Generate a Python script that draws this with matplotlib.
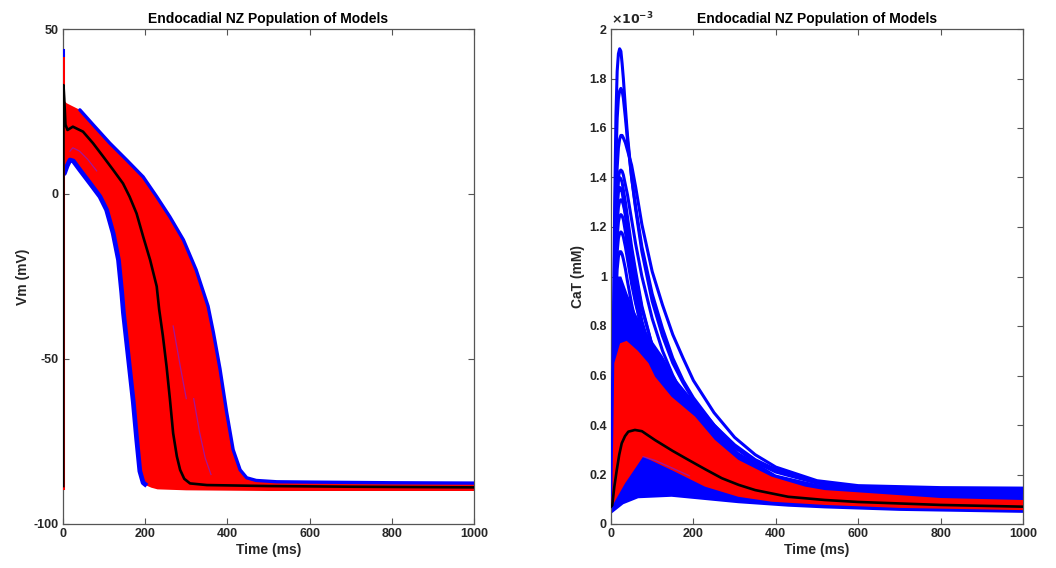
import numpy as np
import matplotlib
matplotlib.use('Agg')
import matplotlib.pyplot as plt
from matplotlib.ticker import FuncFormatter

plt.rcParams['font.family'] = ['Liberation Sans', 'DejaVu Sans']
plt.rcParams['font.weight'] = 'bold'
plt.rcParams['axes.unicode_minus'] = False

TITLE = 'Endocadial NZ Population of Models'

# ---------------- Vm panel (time in ms, Vm in mV) ----------------
vm_up_t = [1.5, 5, 9, 20, 41, 74, 114, 155, 195, 228, 260, 293, 324, 353, 366, 382, 398, 414, 431, 447, 470, 520, 600, 800, 1000]
vm_up_v = [28.5, 28.0, 27.5, 26.8, 25.5, 20.9, 15.4, 10.3, 5.2, -0.8, -6.9, -13.9, -23.0, -34.0, -42.0, -53.0, -66.0, -77.5, -83.6, -86.0, -86.8, -87.2, -87.3, -87.5, -87.6]
vm_lo_t = [1.5, 3.6, 10, 17, 25, 41, 66, 90, 106, 122, 135, 143, 147, 155, 163, 171, 179, 187, 195, 204, 215, 230, 300, 500, 1000]
vm_lo_v = [6.0, 6.3, 8.5, 10.3, 10.0, 7.3, 3.2, -0.8, -4.8, -11.9, -20.0, -30.0, -36.0, -45.0, -54.0, -63.0, -74.0, -84.0, -87.5, -88.4, -89.0, -89.5, -89.8, -90.0, -90.0]
vm_mean_t = [0.6, 1.2, 3, 6, 11, 24, 48.6, 73, 98, 122, 146, 162, 179, 195, 212, 228, 234, 243, 252, 260, 268, 277, 285, 295, 309, 350, 500, 700, 1000]
vm_mean_v = [-88.5, 33.0, 29.0, 21.0, 19.4, 20.4, 18.9, 15.4, 11.3, 7.3, 3.2, -0.8, -5.9, -12.9, -20.0, -28.0, -35.0, -43.0, -52.3, -62.0, -72.5, -79.5, -83.6, -86.3, -87.7, -88.2, -88.5, -88.7, -88.9]
vm_tail_top_t = [447, 470, 520, 600, 800, 1000]
vm_tail_top_v = [-86.0, -86.8, -87.2, -87.3, -87.5, -87.6]
# faint blue traces visible inside the red band
vm_inner1_t = [17, 24, 40, 60, 82]
vm_inner1_v = [13.0, 14.0, 13.0, 10.5, 7.0]
vm_inner2_t = [318, 332, 346, 360]
vm_inner2_v = [-62.0, -72.0, -80.0, -85.0]
vm_inner3_t = [268, 285, 300]
vm_inner3_v = [-40.0, -52.0, -62.0]
vm_rest_v = -89.0
vm_spike_red = 42.0
vm_spike_blue = 43.5

# ---------------- CaT panel (time in ms, CaT in 1e-3 mM) ----------------
ca_blue_up_t = [0, 3, 6, 10, 15, 25, 40, 60, 80, 100, 125, 160, 200, 230, 270, 310, 400, 500, 600, 800, 1000]
ca_blue_up_v = [0.05, 0.30, 0.65, 0.90, 1.00, 1.00, 0.93, 0.85, 0.79, 0.74, 0.68, 0.58, 0.50, 0.44, 0.36, 0.29, 0.20, 0.16, 0.145, 0.14, 0.138]
ca_blue_lo_t = [0, 2, 30, 66, 147, 228, 309, 430, 519, 700, 1000]
ca_blue_lo_v = [0.045, 0.043, 0.08, 0.104, 0.11, 0.097, 0.084, 0.07, 0.063, 0.053, 0.045]
ca_red_up_t = [0, 3.3, 5.7, 8, 22, 38, 65, 91, 107, 147, 204, 252, 309, 390, 471, 519, 600, 800, 1000]
ca_red_up_v = [0.07, 0.137, 0.38, 0.65, 0.73, 0.74, 0.70, 0.65, 0.595, 0.514, 0.434, 0.34, 0.259, 0.191, 0.151, 0.137, 0.128, 0.105, 0.097]
ca_red_lo_t = [0, 2, 34, 78, 147, 228, 309, 390, 519, 700, 1000]
ca_red_lo_v = [0.065, 0.07, 0.164, 0.272, 0.218, 0.151, 0.11, 0.09, 0.077, 0.065, 0.056]
ca_inner_t = [78, 110, 150, 190]
ca_inner_v = [0.272, 0.255, 0.225, 0.195]
ca_mean_t = [0, 3, 8, 14, 20, 26, 34, 42, 58, 75, 107, 150, 188, 230, 269, 310, 350, 430, 519, 600, 800, 1000]
ca_mean_v = [0.07, 0.075, 0.15, 0.218, 0.28, 0.326, 0.355, 0.373, 0.38, 0.375, 0.339, 0.295, 0.259, 0.22, 0.185, 0.158, 0.137, 0.11, 0.097, 0.089, 0.077, 0.07]

# outlying (blue) CaT traces sampled on a common time grid
ca_out_t = [0, 3, 6, 9, 12, 15, 18, 21, 24, 27, 30, 35, 40, 50, 60, 75, 100, 125, 150, 175, 200, 250, 300, 350, 400, 500, 600, 800, 1000]
ca_out_1 = [0.10, 0.35, 0.80, 1.30, 1.65, 1.83, 1.90, 1.92, 1.91, 1.86, 1.80, 1.68, 1.57, 1.40, 1.27, 1.10, 0.90, 0.76, 0.65, 0.57, 0.50, 0.40, 0.32, 0.26, 0.22, 0.17, 0.150, 0.143, 0.140]
ca_out_2 = [0.10, 0.30, 0.70, 1.15, 1.47, 1.64, 1.72, 1.75, 1.76, 1.75, 1.72, 1.64, 1.55, 1.40, 1.28, 1.12, 0.93, 0.79, 0.67, 0.58, 0.51, 0.40, 0.31, 0.25, 0.21, 0.165, 0.148, 0.142, 0.140]
ca_out_3 = [0.10, 0.28, 0.62, 1.00, 1.28, 1.44, 1.52, 1.555, 1.57, 1.57, 1.56, 1.54, 1.51, 1.45, 1.36, 1.21, 1.02, 0.885, 0.765, 0.67, 0.58, 0.45, 0.35, 0.28, 0.23, 0.175, 0.155, 0.147, 0.145]
ca_out_4 = [0.10, 0.27, 0.60, 0.95, 1.20, 1.34, 1.40, 1.425, 1.43, 1.425, 1.41, 1.37, 1.33, 1.23, 1.13, 1.00, 0.83, 0.70, 0.60, 0.52, 0.45, 0.35, 0.28, 0.23, 0.19, 0.155, 0.145, 0.140, 0.138]
ca_out_5 = [0.10, 0.27, 0.60, 0.95, 1.20, 1.33, 1.385, 1.40, 1.395, 1.38, 1.35, 1.30, 1.24, 1.12, 1.02, 0.88, 0.72, 0.60, 0.50, 0.43, 0.37, 0.29, 0.23, 0.19, 0.165, 0.145, 0.140, 0.138, 0.137]
ca_out_6 = [0.10, 0.26, 0.57, 0.90, 1.14, 1.28, 1.34, 1.36, 1.355, 1.34, 1.31, 1.25, 1.18, 1.05, 0.95, 0.82, 0.68, 0.57, 0.48, 0.41, 0.36, 0.28, 0.22, 0.18, 0.16, 0.140, 0.135, 0.133, 0.132]
ca_out_7 = [0.10, 0.25, 0.55, 0.86, 1.09, 1.22, 1.28, 1.305, 1.31, 1.305, 1.29, 1.25, 1.20, 1.10, 1.00, 0.87, 0.72, 0.60, 0.51, 0.44, 0.38, 0.30, 0.24, 0.195, 0.165, 0.142, 0.135, 0.132, 0.130]
ca_out_8 = [0.10, 0.24, 0.52, 0.82, 1.03, 1.16, 1.22, 1.245, 1.25, 1.245, 1.23, 1.18, 1.12, 1.00, 0.90, 0.78, 0.65, 0.55, 0.47, 0.41, 0.36, 0.28, 0.22, 0.18, 0.155, 0.138, 0.132, 0.130, 0.128]
ca_out_9 = [0.10, 0.23, 0.50, 0.78, 0.98, 1.10, 1.155, 1.175, 1.18, 1.175, 1.16, 1.12, 1.07, 0.97, 0.89, 0.79, 0.67, 0.57, 0.49, 0.43, 0.38, 0.30, 0.24, 0.195, 0.165, 0.140, 0.133, 0.130, 0.128]
ca_out_10 = [0.10, 0.22, 0.48, 0.74, 0.92, 1.03, 1.08, 1.10, 1.10, 1.09, 1.07, 1.03, 0.98, 0.89, 0.81, 0.71, 0.60, 0.51, 0.44, 0.39, 0.34, 0.27, 0.22, 0.18, 0.155, 0.137, 0.132, 0.130, 0.128]
ca_out_list = [ca_out_1, ca_out_2, ca_out_3, ca_out_4, ca_out_5, ca_out_6, ca_out_7, ca_out_8, ca_out_9, ca_out_10]

RED = (1, 0, 0)
BLUE = (0, 0, 1)
PURPLE = (0.55, 0.1, 0.75)
AXC = '#262626'

fig = plt.figure(figsize=(10.56, 5.68), dpi=100)
ax1 = fig.add_axes([63 / 1056, 44 / 568, 411 / 1056, 495 / 568])
ax2 = fig.add_axes([611 / 1056, 44 / 568, 412 / 1056, 495 / 568])


def band(ax, tu, vu, tl, vl, color, z):
    xs = np.concatenate([np.asarray(tu, float), np.asarray(tl, float)[::-1]])
    ys = np.concatenate([np.asarray(vu, float), np.asarray(vl, float)[::-1]])
    ax.fill(xs, ys, color=color, lw=0, zorder=z)


# ---- left panel ----
band(ax1, vm_up_t, vm_up_v, vm_lo_t, vm_lo_v, RED, 2)
# blue outermost traces along the envelope
ax1.plot(vm_up_t[4:], vm_up_v[4:], color=BLUE, lw=2.4, zorder=3, solid_capstyle='round')
ax1.plot(vm_lo_t[:20], vm_lo_v[:20], color=BLUE, lw=3.4, zorder=3, solid_capstyle='butt')
ax1.plot(vm_tail_top_t, vm_tail_top_v, color=BLUE, lw=1.0, zorder=3)
for tt, vv in ((vm_inner1_t, vm_inner1_v), (vm_inner2_t, vm_inner2_v), (vm_inner3_t, vm_inner3_v)):
    ax1.plot(tt, vv, color=PURPLE, lw=0.9, alpha=0.8, zorder=3)
# upstroke at t=0
ax1.plot([0.8, 0.8], [vm_rest_v, vm_spike_red], color=RED, lw=2.2, zorder=4)
ax1.plot([0.8, 0.8], [vm_spike_red, vm_spike_blue], color=BLUE, lw=2.2, zorder=4)
ax1.plot(vm_mean_t, vm_mean_v, color='black', lw=1.9, zorder=5)

ax1.set_xlim(0, 1000)
ax1.set_ylim(-100, 50)
ax1.set_xticks([0, 200, 400, 600, 800, 1000])
ax1.set_yticks([-100, -50, 0, 50])
ax1.set_xlabel('Time (ms)', fontsize=10, fontweight='bold', color=AXC, labelpad=2)
ax1.set_ylabel('Vm (mV)', fontsize=10, fontweight='bold', color=AXC, labelpad=3)
ax1.set_title(TITLE, fontsize=10, fontweight='bold', pad=4)

# ---- right panel ----
band(ax2, ca_blue_up_t, ca_blue_up_v, ca_blue_lo_t, ca_blue_lo_v, BLUE, 2)
for tr in ca_out_list:
    ax2.plot(ca_out_t, tr, color=BLUE, lw=2.2, zorder=3)
band(ax2, ca_red_up_t, ca_red_up_v, ca_red_lo_t, ca_red_lo_v, RED, 4)
ax2.plot(ca_inner_t, ca_inner_v, color=PURPLE, lw=1.0, alpha=0.8, zorder=4.5)
ax2.plot(ca_mean_t, ca_mean_v, color='black', lw=1.9, zorder=5)

ax2.set_xlim(0, 1000)
ax2.set_ylim(0, 2)
ax2.set_xticks([0, 200, 400, 600, 800, 1000])
ax2.set_yticks(np.arange(0, 2.01, 0.2))
ax2.yaxis.set_major_formatter(FuncFormatter(lambda v, p: '%g' % round(v, 1)))
ax2.set_xlabel('Time (ms)', fontsize=10, fontweight='bold', color=AXC, labelpad=2)
ax2.set_ylabel('CaT (mM)', fontsize=10, fontweight='bold', color=AXC, labelpad=3)
ax2.set_title(TITLE, fontsize=10, fontweight='bold', pad=4)
ax2.text(0.0, 1.003, r'$\times10^{-3}$', transform=ax2.transAxes, ha='left', va='bottom',
         fontsize=9, color=AXC)

for ax in (ax1, ax2):
    for s in ax.spines.values():
        s.set_color('#555555')
        s.set_linewidth(0.9)
    ax.tick_params(direction='in', top=True, right=True, length=4, width=0.8,
                   colors='#555555', labelcolor=AXC, labelsize=9, pad=3)
    for lab in ax.get_xticklabels() + ax.get_yticklabels():
        lab.set_fontweight('bold')

fig.savefig('out.png', dpi=100)
